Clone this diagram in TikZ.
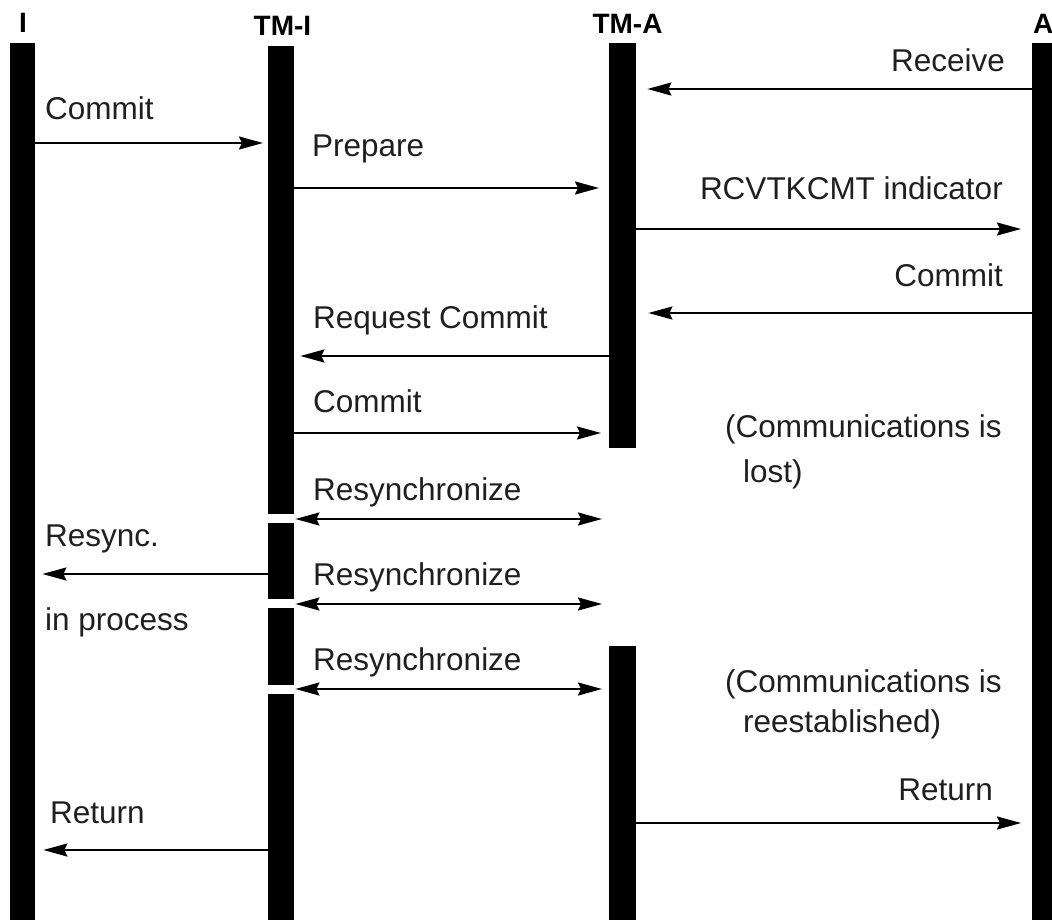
\documentclass[tikz,border=0pt]{standalone}
\usepackage{fontspec}
\setmainfont{Liberation Sans}
\usetikzlibrary{arrows.meta}
\begin{document}
\begin{tikzpicture}[x=1pt,y=-1pt,
  bar/.style={fill=black,draw=none,inner sep=0pt,anchor=north west,minimum width=26pt},
  tip/.tip={Stealth[length=24pt,width=13pt,inset=3pt]},
  msg/.style={line width=2pt,-tip},
  dmsg/.style={line width=2pt,tip-tip},
  lbl/.style={inner sep=0pt,text=black!88,font=\fontsize{31.5}{38}\selectfont},
  head/.style={inner sep=0pt,anchor=base,font=\fontsize{28}{32}\selectfont\bfseries}]
\useasboundingbox (0,0) rectangle (1052,920);
\clip (0,0) rectangle (1052,920);
% lifeline bars
\node[bar,minimum width=25pt,minimum height=877pt] (I) at (10,43) {};
\node[bar,minimum height=468pt] (TMI1) at (268,46) {};
\node[bar,minimum height=76pt] (TMI2) at (268,523) {};
\node[bar,minimum height=77pt] (TMI3) at (268,608) {};
\node[bar,minimum height=226pt] (TMI4) at (268,694) {};
\node[bar,minimum width=27pt,minimum height=405pt] (TMA1) at (609,43) {};
\node[bar,minimum width=27pt,minimum height=274pt] (TMA2) at (609,646) {};
\node[bar,minimum width=30pt,minimum height=877pt] (A) at (1032,43) {};
% headers
\node[head] (hI) at (23,33) {I};
\node[head] (hTMI) at (282.5,36) {TM-I};
\node[head] (hTMA) at (627.5,34) {TM-A};
\node[head,anchor=base west] (hA) at (1033,34) {A};
% message levels
\coordinate (y1) at (0,89);
\coordinate (y2) at (0,143);
\coordinate (y3) at (0,188);
\coordinate (y4) at (0,229);
\coordinate (y5) at (0,313);
\coordinate (y6) at (0,356);
\coordinate (y7) at (0,433);
\coordinate (y8) at (0,519);
\coordinate (y9) at (0,574);
\coordinate (y10) at (0,604);
\coordinate (y11) at (0,689);
\coordinate (y12) at (0,823);
\coordinate (y13) at (0,850);
% messages
\draw[msg,shorten >=11pt] (A.west |- y1) -- (TMA1.east |- y1);
\draw[msg,shorten >=5pt] (I.east |- y2) -- (TMI1.west |- y2);
\draw[msg,shorten >=10pt] (TMI1.east |- y3) -- (TMA1.west |- y3);
\draw[msg,shorten >=11pt] (TMA1.east |- y4) -- (A.west |- y4);
\draw[msg,shorten >=12pt] (A.west |- y5) -- (TMA1.east |- y5);
\draw[msg,shorten >=6pt] (TMA1.west |- y6) -- (TMI1.east |- y6);
\draw[msg,shorten >=8pt] (TMI1.east |- y7) -- (TMA1.west |- y7);
\draw[dmsg,shorten <=1pt,shorten >=7pt] (TMI2.east |- y8) -- (TMA1.west |- y8);
\draw[msg,shorten >=7pt] (TMI2.west |- y9) -- (I.east |- y9);
\draw[dmsg,shorten <=1pt,shorten >=7pt] (TMI3.east |- y10) -- (TMA1.west |- y10);
\draw[dmsg,shorten <=1pt,shorten >=7pt] (TMI4.east |- y11) -- (TMA2.west |- y11);
\draw[msg,shorten >=11pt] (TMA2.east |- y12) -- (A.west |- y12);
\draw[msg,shorten >=8pt] (TMI4.west |- y13) -- (I.east |- y13);
% labels
\node[lbl,anchor=base east] (l1) at (1005,72) {Receive};
\node[lbl,anchor=base west] (l2) at (45,120) {Commit};
\node[lbl,anchor=base west] (l3) at (312,157) {Prepare};
\node[lbl,anchor=base east] (l4) at (1003,200) {RCVTKCMT indicator};
\node[lbl,anchor=base east] (l5) at (1003,286) {Commit};
\node[lbl,anchor=base west] (l6) at (313,328) {Request Commit};
\node[lbl,anchor=base west] (l7) at (313,412) {Commit};
\node[lbl,anchor=base west] (n1a) at (725,437) {(Communications is};
\node[lbl,anchor=base west] (n1b) at (743,482) {lost)};
\node[lbl,anchor=base west] (l8) at (313,500) {Resynchronize};
\node[lbl,anchor=base west] (l9a) at (45,546) {Resync.};
\node[lbl,anchor=base west] (l9b) at (45,630) {in process};
\node[lbl,anchor=base west] (l10) at (313,585) {Resynchronize};
\node[lbl,anchor=base west] (l11) at (313,670) {Resynchronize};
\node[lbl,anchor=base west] (n2a) at (725,692) {(Communications is};
\node[lbl,anchor=base west] (n2b) at (743,732) {reestablished)};
\node[lbl,anchor=base east] (l12) at (993,800) {Return};
\node[lbl,anchor=base west] (l13) at (50,823) {Return};
\end{tikzpicture}
\end{document}
